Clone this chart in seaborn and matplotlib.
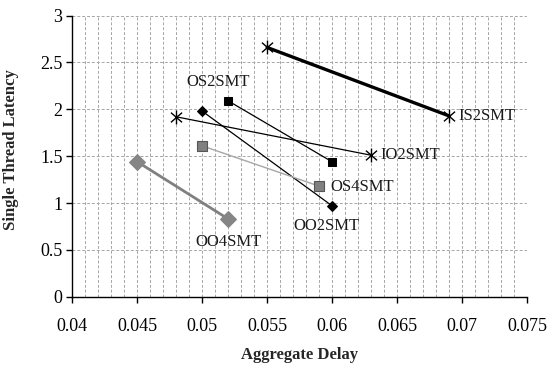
import matplotlib
matplotlib.use("Agg")
import matplotlib.pyplot as plt
from matplotlib.path import Path
from matplotlib.ticker import MultipleLocator
import seaborn as sns
import pandas as pd

series_names = ["IS2SMT", "IO2SMT", "OS2SMT", "OO2SMT", "OS4SMT", "OO4SMT"]
delay = {
    "IS2SMT": [0.055, 0.069],
    "IO2SMT": [0.048, 0.063],
    "OS2SMT": [0.052, 0.060],
    "OO2SMT": [0.050, 0.060],
    "OS4SMT": [0.050, 0.059],
    "OO4SMT": [0.045, 0.052],
}
latency = {
    "IS2SMT": [2.66, 1.93],
    "IO2SMT": [1.92, 1.51],
    "OS2SMT": [2.09, 1.44],
    "OO2SMT": [1.98, 0.97],
    "OS4SMT": [1.61, 1.18],
    "OO4SMT": [1.44, 0.83],
}
x_ticks = [0.04, 0.045, 0.05, 0.055, 0.06, 0.065, 0.07, 0.075]
y_ticks = [0, 0.5, 1, 1.5, 2, 2.5, 3]

sns.set_theme(style="white")
plt.rcParams["font.family"] = ["Liberation Serif", "DejaVu Serif"]

star = Path([(0, -1), (0, 1), (-0.8, -0.7), (0.8, 0.7), (-0.8, 0.7), (0.8, -0.7)],
            [Path.MOVETO, Path.LINETO, Path.MOVETO, Path.LINETO, Path.MOVETO, Path.LINETO])

styles = {
    "IS2SMT": dict(color="black", linewidth=2.4, marker=star, markersize=10, markerfacecolor="none",
                   markeredgecolor="black", markeredgewidth=1.0),
    "IO2SMT": dict(color="black", linewidth=0.9, marker=star, markersize=10, markerfacecolor="none",
                   markeredgecolor="black", markeredgewidth=1.0),
    "OS2SMT": dict(color="black", linewidth=0.9, marker="s", markersize=5.5, markerfacecolor="black",
                   markeredgecolor="black"),
    "OO2SMT": dict(color="black", linewidth=0.9, marker="D", markersize=5, markerfacecolor="black",
                   markeredgecolor="black"),
    "OS4SMT": dict(color="#a6a6a6", linewidth=1.0, marker="s", markersize=7.5, markerfacecolor="#808080",
                   markeredgecolor="#555555", markeredgewidth=0.8),
    "OO4SMT": dict(color="#808080", linewidth=2.0, marker="D", markersize=8, markerfacecolor="#858585",
                   markeredgecolor="#858585"),
}

fig = plt.figure(figsize=(5.5, 3.67), dpi=100)
ax = fig.add_axes([0.1315, 0.1915, 0.8265, 0.766])

for name in series_names:
    df = pd.DataFrame({"x": delay[name], "y": latency[name]})
    sns.lineplot(data=df, x="x", y="y", sort=False, ax=ax, zorder=3, **styles[name])

ax.set_xlim(0.04, 0.075)
ax.set_ylim(0, 3)
ax.set_xticks(x_ticks)
ax.set_xticklabels([f"{t:g}" for t in x_ticks])
ax.set_yticks(y_ticks)
ax.set_yticklabels([f"{t:g}" for t in y_ticks])
ax.xaxis.set_minor_locator(MultipleLocator(0.001))
ax.grid(True, which="both", axis="x", color="#a6a6a6", linestyle=(0, (3, 2)), linewidth=0.7)
ax.grid(True, which="major", axis="y", color="#a6a6a6", linestyle=(0, (3, 2)), linewidth=0.7)
ax.tick_params(axis="x", which="minor", length=0)
ax.tick_params(axis="both", which="major", direction="out", length=4, width=1, color="black",
               labelsize=13, labelcolor="black", bottom=True, left=True, pad=3)
ax.tick_params(axis="x", pad=11)
for s in ["top", "right"]:
    ax.spines[s].set_visible(False)
for s in ["left", "bottom"]:
    ax.spines[s].set_color("black")
    ax.spines[s].set_linewidth(1)

ax.set_xlabel("Aggregate Delay", fontsize=12, fontweight="bold", labelpad=9)
ax.set_ylabel("Single Thread Latency", fontsize=12, fontweight="bold", labelpad=8)
ax.yaxis.set_label_coords(-0.118, 0.522)

lab = dict(fontsize=12, color="#1a1a1a", zorder=4)
ax.text(0.0512, 2.29, "OS2SMT", ha="center", va="center", **lab)
ax.text(0.0697, 1.93, "IS2SMT", ha="left", va="center", **lab)
ax.text(0.0637, 1.51, "IO2SMT", ha="left", va="center", **lab)
ax.text(0.0599, 1.17, "OS4SMT", ha="left", va="center", **lab)
ax.text(0.0596, 0.76, "OO2SMT", ha="center", va="center", **lab)
ax.text(0.0520, 0.58, "OO4SMT", ha="center", va="center", **lab)

fig.savefig("out.png", dpi=100)
